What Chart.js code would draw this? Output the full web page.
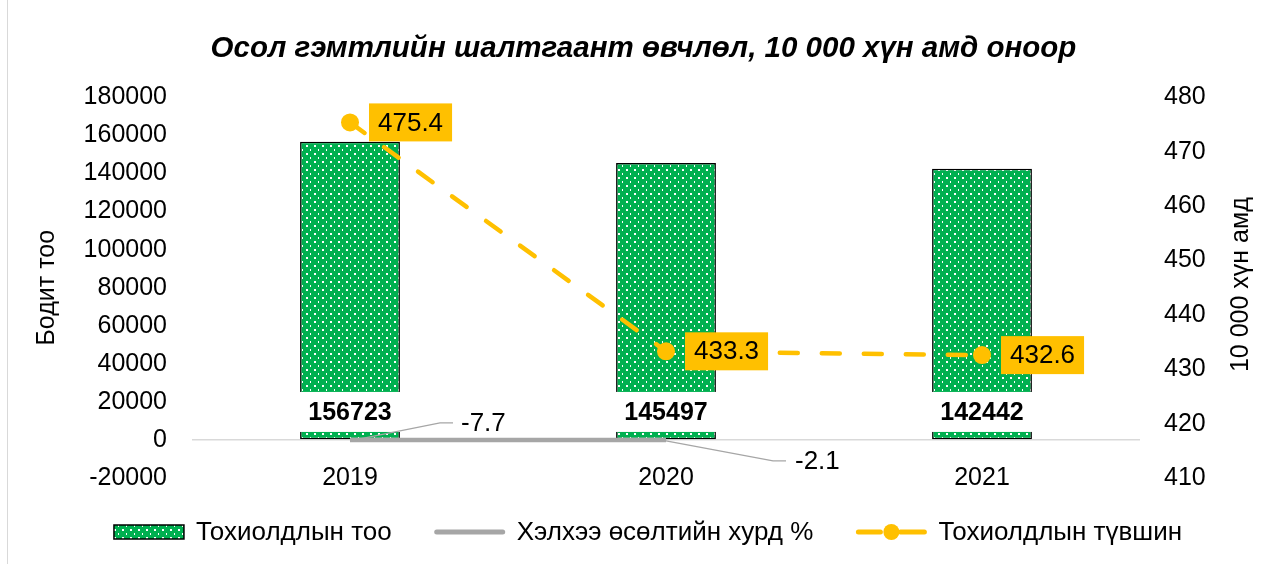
<!DOCTYPE html>
<html><head><meta charset="utf-8">
<script src="https://cdn.jsdelivr.net/npm/chart.js@4.4.1/dist/chart.umd.min.js"></script>
<style>html,body{margin:0;padding:0;background:#fff}#wrap{position:relative;width:1269px;height:564px}canvas{display:block}</style>
</head><body><div id="wrap"><canvas id="c" width="1269" height="564"></canvas></div>
<script>
// ---- data ----
const categories = ['2019', '2020', '2021'];
const caseCounts = [156723, 145497, 142442];
const growthRates = [-7.7, -2.1, null];
const incidenceRates = [475.4, 433.3, 432.6];
const seriesNames = ['Тохиолдлын тоо', 'Хэлхээ өсөлтийн хурд %', 'Тохиолдлын түвшин'];
const titleText = 'Осол гэмтлийн шалтгаант өвчлөл, 10 000 хүн амд оноор';
const leftAxisTitle = 'Бодит тоо';
const rightAxisTitle = '10 000 хүн амд';
const leftRange = [-20000, 180000, 20000];
const rightRange = [410, 480, 10];

// ---- styles ----
const FONT = "'Liberation Sans', Arial, sans-serif";
const GREEN = '#00B050', GRAY = '#A6A6A6', ORANGE = '#FFC000';
const canvas = document.getElementById('c');
const mainCtx = canvas.getContext('2d');

function makePattern() {
  const c = document.createElement('canvas');
  c.width = 8; c.height = 8;
  const x = c.getContext('2d');
  x.fillStyle = GREEN; x.fillRect(0, 0, 8, 8);
  x.fillStyle = '#ffffff';
  x.fillRect(2, 1, 2, 2);
  x.fillRect(6, 5, 1, 2);
  return mainCtx.createPattern(c, 'repeat');
}
const dotPattern = makePattern();

const grayLabelPos = [{lx: 111, ly: -17, k1: 21, k2: 8}, {lx: 129, ly: 21, k1: 22, k2: 9}];

const overlayPlugin = {
  id: 'overlay',
  afterDatasetsDraw(chart) {
    const ctx = chart.ctx;
    const y0 = chart.scales.y.getPixelForValue(0);
    const xs = chart.scales.x;
    ctx.save();
    // category labels below the zero line
    ctx.font = '25px ' + FONT;
    ctx.fillStyle = '#000';
    ctx.textAlign = 'center'; ctx.textBaseline = 'middle';
    categories.forEach((c, i) => ctx.fillText(c, xs.getPixelForValue(i), y0 + 38));
    // bar value labels
    const barMeta = chart.getDatasetMeta(0);
    ctx.font = 'bold 25px ' + FONT;
    barMeta.data.forEach((el, i) => {
      const t = String(caseCounts[i]);
      const w = Math.max(ctx.measureText(t).width + 14, el.width + 4);
      const cy = y0 - 28;
      ctx.fillStyle = '#fff';
      ctx.fillRect(el.x - w / 2, cy - 20, w, 40);
      ctx.fillStyle = '#000';
      ctx.fillText(t, el.x, cy + 1);
    });
    // gray line labels with leader lines
    const grayMeta = chart.getDatasetMeta(1);
    ctx.font = '26px ' + FONT;
    ctx.textAlign = 'left';
    grayMeta.data.forEach((el, i) => {
      if (growthRates[i] == null) return;
      const p = grayLabelPos[i];
      const lx = el.x + p.lx, ly = el.y + p.ly;
      ctx.strokeStyle = GRAY; ctx.lineWidth = 1.2;
      ctx.beginPath();
      ctx.moveTo(el.x, el.y + 1);
      ctx.lineTo(lx - p.k1, ly);
      ctx.lineTo(lx - p.k2, ly);
      ctx.stroke();
      ctx.fillStyle = '#000';
      ctx.fillText(String(growthRates[i]), lx, ly + 1);
    });
    // orange labels
    const orMeta = chart.getDatasetMeta(2);
    ctx.textAlign = 'center';
    orMeta.data.forEach((el, i) => {
      const t = incidenceRates[i].toFixed(1);
      const w = ctx.measureText(t).width + 18;
      const bx = el.x + 19;
      ctx.fillStyle = ORANGE;
      ctx.fillRect(bx, el.y - 19, w, 38);
      ctx.fillStyle = '#000';
      ctx.fillText(t, bx + w / 2, el.y + 1);
    });
    ctx.restore();
  },
  afterDraw(chart) {
    const ctx = chart.ctx;
    const ca = chart.chartArea;
    ctx.save();
    // right axis title
    ctx.font = '25px ' + FONT;
    ctx.fillStyle = '#000';
    ctx.textAlign = 'center'; ctx.textBaseline = 'middle';
    ctx.translate(1241, (ca.top + ca.bottom) / 2 - 3);
    ctx.rotate(-Math.PI / 2);
    ctx.fillText(rightAxisTitle, 0, 0);
    ctx.restore();

    // legend
    ctx.save();
    ctx.font = '26px ' + FONT;
    ctx.textBaseline = 'middle'; ctx.textAlign = 'left';
    const symW = 70, gapT = 12, gapI = 43;
    const widths = seriesNames.map(s => ctx.measureText(s).width);
    const total = widths.reduce((a, b) => a + b, 0) + 3 * (symW + gapT) + 2 * gapI;
    let x = 648 - total / 2;
    const ly = 532;
    seriesNames.forEach((name, i) => {
      if (i === 0) {
        ctx.fillStyle = dotPattern;
        ctx.fillRect(x, ly - 7, symW, 14);
        ctx.strokeStyle = '#000'; ctx.lineWidth = 1.5;
        ctx.strokeRect(x, ly - 7, symW, 14);
      } else if (i === 1) {
        ctx.strokeStyle = GRAY; ctx.lineWidth = 5; ctx.lineCap = 'round';
        ctx.beginPath(); ctx.moveTo(x + 2, ly); ctx.lineTo(x + symW - 2, ly); ctx.stroke();
      } else {
        ctx.strokeStyle = ORANGE; ctx.lineWidth = 5; ctx.lineCap = 'round';
        ctx.beginPath(); ctx.moveTo(x + 2, ly); ctx.lineTo(x + 24, ly); ctx.stroke();
        ctx.beginPath(); ctx.moveTo(x + 44, ly); ctx.lineTo(x + symW - 2, ly); ctx.stroke();
        ctx.fillStyle = ORANGE;
        ctx.beginPath(); ctx.arc(x + symW / 2, ly, 8, 0, Math.PI * 2); ctx.fill();
      }
      ctx.fillStyle = '#000';
      ctx.fillText(name, x + symW + gapT, ly + 1);
      x += symW + gapT + widths[i] + gapI;
    });
    ctx.restore();

    // left frame line
    ctx.save();
    ctx.strokeStyle = '#D9D9D9'; ctx.lineWidth = 1;
    ctx.beginPath(); ctx.moveTo(7.5, 0); ctx.lineTo(7.5, 564); ctx.stroke();
    ctx.restore();
  }
};

Chart.defaults.font.family = FONT;
Chart.defaults.font.size = 25;
Chart.defaults.color = '#000';

new Chart(canvas, {
  type: 'bar',
  data: {
    labels: categories,
    datasets: [
      {
        type: 'bar', label: seriesNames[0], data: caseCounts, yAxisID: 'y', order: 3,
        backgroundColor: dotPattern, borderColor: '#000', borderWidth: 1.5, borderSkipped: false,
        categoryPercentage: 1, barPercentage: 0.316
      },
      {
        type: 'line', label: seriesNames[1], data: growthRates, yAxisID: 'y', order: 2,
        borderColor: GRAY, borderWidth: 4.5, pointRadius: 0, fill: false, spanGaps: false
      },
      {
        type: 'line', label: seriesNames[2], data: incidenceRates, yAxisID: 'y1', order: 1,
        borderColor: ORANGE, borderWidth: 4.5, borderDash: [18, 24], borderCapStyle: 'round',
        pointRadius: 9, pointBackgroundColor: ORANGE, pointBorderColor: ORANGE, pointBorderWidth: 0,
        fill: false, tension: 0
      }
    ]
  },
  options: {
    responsive: false, animation: false, devicePixelRatio: 1,
    layout: {padding: {left: 28, right: 10, top: 0, bottom: 50}},
    plugins: {
      legend: {display: false},
      tooltip: {enabled: false},
      title: {
        display: true, text: titleText, color: '#000',
        font: {size: 29.5, weight: 'bold', style: 'italic', family: FONT, lineHeight: 1.2},
        padding: {top: 31, bottom: 31}
      }
    },
    scales: {
      x: {
        grid: {display: false}, border: {display: false},
        ticks: {display: false},
        afterFit: s => { s.height = 36; }
      },
      y: {
        position: 'left', min: leftRange[0], max: leftRange[1],
        ticks: {stepSize: leftRange[2], padding: 25, font: {size: 25}, callback: v => String(v)},
        grid: {drawTicks: false, lineWidth: 1.5, color: c => (c.tick && c.tick.value === 0) ? '#D9D9D9' : 'rgba(0,0,0,0)'},
        border: {display: false},
        title: {display: true, text: leftAxisTitle, font: {size: 25}, padding: {top: 4, bottom: 0}},
        afterFit: s => { s.width = 164; }
      },
      y1: {
        position: 'right', min: rightRange[0], max: rightRange[1],
        ticks: {stepSize: rightRange[2], padding: 24, font: {size: 25}, callback: v => String(v)},
        grid: {display: false, drawTicks: false}, border: {display: false},
        afterFit: s => { s.width = 119; }
      }
    }
  },
  plugins: [overlayPlugin]
});
</script>
</body></html>
